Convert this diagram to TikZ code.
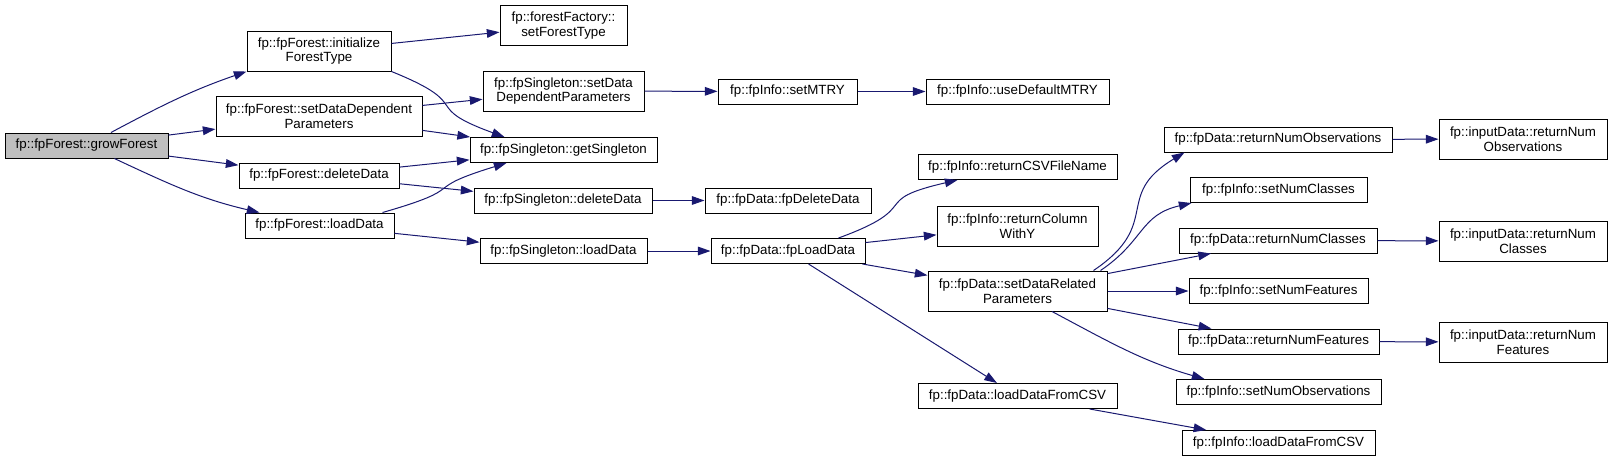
\documentclass[tikz,border=0pt]{standalone}
\usepackage{fontspec}
\setmainfont{Liberation Sans}
\usetikzlibrary{arrows.meta, calc}
\definecolor{edgeblue}{RGB}{25, 25, 112}
\definecolor{rootgray}{RGB}{191, 191, 191}
\tikzset{
  box/.style={draw=black, fill=white, line width=0.75pt, align=center, inner sep=0pt, font=\fontsize{10}{11}\selectfont},
  rbox/.style={box, fill=rootgray},
  sz/.style 2 args={minimum width=#1*0.75pt, minimum height=#2*0.75pt},
  arr/.style={-{Triangle[length=9.5pt, width=6.5pt]}, line width=0.75pt, edgeblue}
}
\begin{document}
\begin{tikzpicture}[x=0.75pt, y=0.75pt]
                \useasboundingbox (0,0) rectangle (1612,-462);
                \node[rbox, sz={163}{25}] (gf) at (86.5,-145.5) {fp::fpForest::growForest};
                \node[box, sz={144}{40}] (ift) at (319,-51) {fp::fpForest::initialize\\ForestType};
                \node[box, sz={206}{40}] (fddp) at (319,-116) {fp::fpForest::setDataDependent\\Parameters};
                \node[box, sz={160}{25}] (fdd) at (319,-175.5) {fp::fpForest::deleteData};
                \node[box, sz={149}{25}] (fld) at (319.5,-225.5) {fp::fpForest::loadData};
                \node[box, sz={127}{40}] (sft) at (563.5,-25.5) {fp::forestFactory::\\setForestType};
                \node[box, sz={161}{40}] (sddp) at (563.5,-91) {fp::fpSingleton::setData\\DependentParameters};
                \node[box, sz={187}{25}] (gs) at (563.5,-150) {fp::fpSingleton::getSingleton};
                \node[box, sz={178}{25}] (sdd) at (563,-200.5) {fp::fpSingleton::deleteData};
                \node[box, sz={167}{25}] (sld) at (563.5,-251) {fp::fpSingleton::loadData};
                \node[box, sz={139}{25}] (mtry) at (787.5,-91.5) {fp::fpInfo::setMTRY};
                \node[box, sz={166}{25}] (fdel) at (788,-200.5) {fp::fpData::fpDeleteData};
                \node[box, sz={154}{25}] (fload) at (788,-251) {fp::fpData::fpLoadData};
                \node[box, sz={183}{25}] (dmtry) at (1017.5,-91.5) {fp::fpInfo::useDefaultMTRY};
                \node[box, sz={199}{25}] (csv) at (1017.5,-167) {fp::fpInfo::returnCSVFileName};
                \node[box, sz={161}{40}] (coly) at (1017.5,-226) {fp::fpInfo::returnColumn\\WithY};
                \node[box, sz={179}{40}] (drp) at (1017.5,-291) {fp::fpData::setDataRelated\\Parameters};
                \node[box, sz={199}{25}] (dcsv) at (1017.5,-396) {fp::fpData::loadDataFromCSV};
                \node[box, sz={228}{25}] (rno) at (1278,-139.5) {fp::fpData::returnNumObservations};
                \node[box, sz={177}{25}] (snc) at (1278.5,-190) {fp::fpInfo::setNumClasses};
                \node[box, sz={198}{25}] (rnc) at (1278,-240.5) {fp::fpData::returnNumClasses};
                \node[box, sz={179}{25}] (snf) at (1278.5,-291) {fp::fpInfo::setNumFeatures};
                \node[box, sz={201}{25}] (rnf) at (1278.5,-341.5) {fp::fpData::returnNumFeatures};
                \node[box, sz={205}{25}] (sno) at (1278.5,-392) {fp::fpInfo::setNumObservations};
                \node[box, sz={193}{25}] (icsv) at (1278.5,-443) {fp::fpInfo::loadDataFromCSV};
                \node[box, sz={168}{40}] (ino) at (1523,-139) {fp::inputData::returnNum\\Observations};
                \node[box, sz={168}{40}] (inc) at (1523,-241) {fp::inputData::returnNum\\Classes};
                \node[box, sz={168}{40}] (inf) at (1523,-342) {fp::inputData::returnNum\\Features};
                \draw[arr] (gf.28) to[out=28, in=199] (ift.south west);
                \draw[arr] (gf) -- (fddp);
                \draw[arr] (gf) -- (fdd);
                \draw[arr] (gf.-25) to[out=-25, in=167] ($(fld.north west)+(15,0)$);
                \draw[arr] (ift) -- (sft);
                \draw[arr] (ift.south east) to[out=-22, in=160, looseness=1.8] ($(gs.north west)+(35,0)$);
                \draw[arr] (fddp) -- (sddp);
                \draw[arr] (fddp) -- (gs);
                \draw[arr] (fdd) -- (gs);
                \draw[arr] (fdd) -- (sdd);
                \draw[arr] ($(fld.north east)+(-12,0)$) to[out=16, in=197, looseness=1.8] ($(gs.south west)+(37,0)$);
                \draw[arr] (fld) -- (sld);
                \draw[arr] (sddp) -- (mtry);
                \draw[arr] (mtry) -- (dmtry);
                \draw[arr] (sdd) -- (fdel);
                \draw[arr] (sld) -- (fload);
                \draw[arr] ($(fload.north east)+(-27,0)$) to[out=20, in=193, looseness=1.8] ($(csv.south west)+(40,0)$);
                \draw[arr] (fload) -- (coly);
                \draw[arr] (fload) -- (drp);
                \draw[arr] (fload) -- (dcsv);
                \draw[arr] ($(drp.north east)+(-14,0)$) to[out=34, in=211, looseness=1.45] ($(rno.south west)+(21,0)$);
                \draw[arr] ($(drp.north east)+(-7,0)$) to[out=34, in=193, looseness=1.2] ($(snc.south west)+(2,0)$);
                \draw[arr] (drp) -- (rnc);
                \draw[arr] (drp) -- (snf);
                \draw[arr] (drp) -- (rnf);
                \draw[arr] ($(drp.south)+(34.5,0)$) to[out=-28, in=164] ($(sno.north west)+(29,0)$);
                \draw[arr] (dcsv) -- (icsv);
                \draw[arr] (rno) -- (ino);
                \draw[arr] (rnc) -- (inc);
                \draw[arr] (rnf) -- (inf);
            \end{tikzpicture}
\end{document}
